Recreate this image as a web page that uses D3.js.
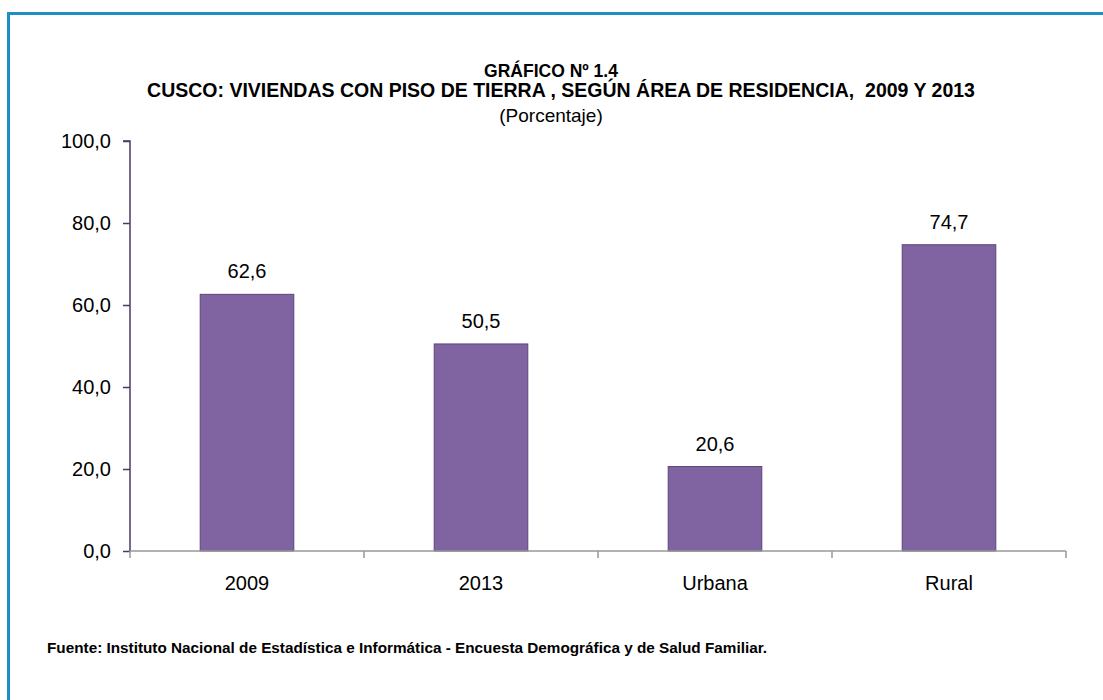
<!DOCTYPE html>
<html>
<head>
<meta charset="utf-8">
<script src="https://cdn.jsdelivr.net/npm/d3@7"></script>
<style>
  body { margin: 0; background: #fff; }
  svg text { font-family: "Liberation Sans Narrow", "Arial Narrow", "Liberation Sans", sans-serif; fill: #000; }
</style>
</head>
<body>
<div id="chart"></div>
<script>
/* DATA */
const categories = ["2009", "2013", "Urbana", "Rural"];
const values = [62.6, 50.5, 20.6, 74.7];
const yTicks = [0, 20, 40, 60, 80, 100];

/* CONSTANTS */
const width = 1103,
  height = 700,
  margin = { top: 141, bottom: 149, left: 130, right: 37 };

const fmt = v => d3.format(".1f")(v).replace(".", ",");

const svg = d3.select("#chart")
  .append("svg")
  .attr("width", width)
  .attr("height", height);

// blue frame (runs past the right and bottom edges)
svg.append("rect")
  .attr("x", 8.5)
  .attr("y", 13.5)
  .attr("width", 1200)
  .attr("height", 800)
  .attr("fill", "none")
  .attr("stroke", "#1f8fc1")
  .attr("stroke-width", 3);

// titles
svg.append("text")
  .attr("x", 551).attr("y", 77)
  .attr("text-anchor", "middle")
  .attr("font-weight", "bold")
  .attr("font-size", 17.5)
  .text("GRÁFICO Nº 1.4");

svg.append("text")
  .attr("x", 561).attr("y", 97)
  .attr("text-anchor", "middle")
  .attr("font-weight", "bold")
  .attr("font-size", 19.5)
  .attr("xml:space", "preserve")
  .text("CUSCO: VIVIENDAS CON PISO DE TIERRA , SEGÚN ÁREA DE RESIDENCIA,  2009 Y 2013");

svg.append("text")
  .attr("x", 551).attr("y", 122)
  .attr("text-anchor", "middle")
  .attr("font-size", 19)
  .text("(Porcentaje)");

const xScale = d3.scaleBand()
  .domain(categories)
  .range([margin.left, width - margin.right])
  .paddingInner(0.6)
  .paddingOuter(0.3);

const yScale = d3.scaleLinear()
  .domain([0, 100])
  .range([height - margin.bottom, margin.top]);

// bars
svg.selectAll(".bar")
  .data(values)
  .join("rect")
  .attr("class", "bar")
  .attr("x", (d, i) => xScale(categories[i]))
  .attr("y", d => yScale(d))
  .attr("width", xScale.bandwidth())
  .attr("height", d => yScale(0) - yScale(d))
  .attr("fill", "#8064a2")
  .attr("stroke", "#5c4478")
  .attr("stroke-width", 1);

// value labels
svg.selectAll(".val")
  .data(values)
  .join("text")
  .attr("class", "val")
  .attr("x", (d, i) => xScale(categories[i]) + xScale.bandwidth() / 2)
  .attr("y", d => yScale(d) - 16)
  .attr("text-anchor", "middle")
  .attr("font-size", 20)
  .text(d => fmt(d));

// y axis
const yAxis = d3.axisLeft(yScale)
  .tickValues(yTicks)
  .tickSize(7)
  .tickPadding(12)
  .tickFormat(fmt);

const gy = svg.append("g")
  .attr("class", "axis y-axis")
  .attr("transform", `translate(${margin.left}, 0)`)
  .call(yAxis);
gy.selectAll("path, line").attr("stroke", "#4b3a63").attr("stroke-width", 1.5);
gy.select(".domain").attr("d", `M-7,${yScale(100)}H0V${yScale(0)}`);
gy.selectAll("text").attr("font-size", 20).attr("fill", "#000");

// x axis
const xEdges = categories.map(c => xScale(c) - xScale.step() * xScale.paddingInner() / 2).concat([width - margin.right]);
const gx = svg.append("g")
  .attr("class", "axis x-axis")
  .attr("transform", `translate(0, ${yScale(0)})`);
gx.append("line")
  .attr("x1", margin.left).attr("x2", width - margin.right)
  .attr("stroke", "#999").attr("stroke-width", 1.5);
gx.selectAll(".tick-x")
  .data(xEdges)
  .join("line")
  .attr("class", "tick-x")
  .attr("x1", d => d).attr("x2", d => d)
  .attr("y1", 0).attr("y2", 7)
  .attr("stroke", "#999").attr("stroke-width", 1.5);
gx.selectAll(".lab")
  .data(categories)
  .join("text")
  .attr("class", "lab")
  .attr("x", d => xScale(d) + xScale.bandwidth() / 2)
  .attr("y", 39)
  .attr("text-anchor", "middle")
  .attr("font-size", 20)
  .text(d => d);

// source
svg.append("text")
  .attr("x", 47).attr("y", 653)
  .attr("font-weight", "bold")
  .attr("font-size", 15.3)
  .text("Fuente: Instituto Nacional de Estadística e Informática - Encuesta Demográfica y de Salud Familiar.");
</script>
</body>
</html>
